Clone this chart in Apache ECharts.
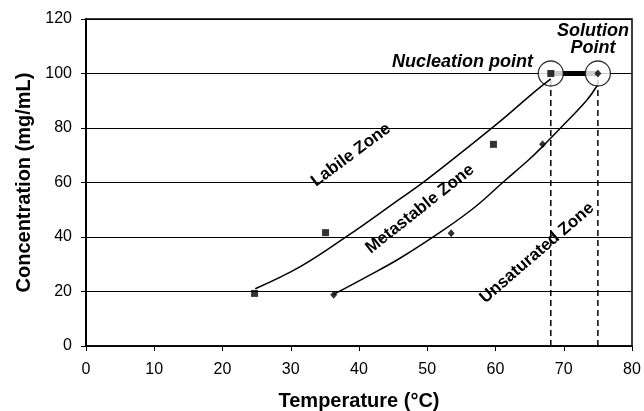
<!DOCTYPE html>
<html lang="en">
<head>
    <meta charset="UTF-8">
    <script src="https://cdn.jsdelivr.net/npm/echarts@6/dist/echarts.min.js"></script>
    <title>Solubility zones</title>
    <style>
        body { margin: 0; background: #fff; }
        #main { width: 644px; height: 411px; }
    </style>
</head>
<body>
    <div id="main"></div>
    <script>
        // values
        var xTicks = [0, 10, 20, 30, 40, 50, 60, 70, 80];
        var yTicks = [0, 20, 40, 60, 80, 100, 120];

        // nucleation points (squares)
        var nucT = [24.7, 35.1, 59.7, 68.1];
        var nucC = [19.3, 41.6, 74, 100];
        // solution points (diamonds)
        var solT = [36.3, 53.5, 66.9, 75];
        var solC = [18.8, 41.4, 74, 100];

        // traced curves
        var upperT = [24.8, 31.4, 38.2, 46, 49.7, 55.3, 60.7, 65.5, 68.1];
        var upperC = [21, 29.1, 40.2, 54, 60.6, 71.6, 82.5, 92.8, 98];
        var lowerT = [36.3, 41.1, 46, 52.4, 57, 61.1, 65, 67, 69.5, 73.4, 74.9];
        var lowerC = [19, 25.4, 32.2, 42.6, 51, 60.1, 68.6, 73.5, 79.9, 90.3, 95.6];

        function pairs(xs, ys) {
            return xs.map(function (x, i) { return [x, ys[i]]; });
        }

        var last = nucT.length - 1;
        var nucPt = [nucT[last], nucC[last]];
        var solPt = [solT[last], solC[last]];

        var font = '"Liberation Sans", Arial, sans-serif';
        var chart = echarts.init(document.getElementById('main'));

        var option = {
            animation: false,
            grid: {
                left: 86, right: 12, top: 19, bottom: 65,
                outerBoundsMode: 'none',
                show: true, borderColor: '#000', borderWidth: 1.5
            },
            xAxis: {
                type: 'value',
                min: xTicks[0], max: xTicks[xTicks.length - 1], interval: 10,
                name: 'Temperature (°C)',
                nameLocation: 'middle',
                nameGap: 45,
                nameTextStyle: { fontFamily: font, fontWeight: 'bold', fontSize: 20, color: '#000' },
                axisLine: { lineStyle: { color: '#000', width: 1.5 } },
                axisTick: { length: 5, lineStyle: { color: '#000' } },
                axisLabel: { margin: 16, fontFamily: font, fontSize: 16, color: '#000' },
                splitLine: { show: false }
            },
            yAxis: {
                type: 'value',
                min: yTicks[0], max: yTicks[yTicks.length - 1], interval: 20,
                name: 'Concentration (mg/mL)',
                nameLocation: 'middle',
                nameGap: 52,
                nameTextStyle: { fontFamily: font, fontWeight: 'bold', fontSize: 20, color: '#000' },
                axisLine: { lineStyle: { color: '#000', width: 2 } },
                axisTick: { length: 5, lineStyle: { color: '#000' } },
                axisLabel: { margin: 14, fontFamily: font, fontSize: 16, color: '#000' },
                splitLine: { lineStyle: { color: '#000', width: 1 } }
            },
            series: [
                {
                    type: 'line', z: 2, symbol: 'none',
                    data: [[nucPt[0], 0], nucPt],
                    lineStyle: { color: '#000', width: 1.5, type: [6, 4] }
                },
                {
                    type: 'line', z: 2, symbol: 'none',
                    data: [[solPt[0], 0], solPt],
                    lineStyle: { color: '#000', width: 1.5, type: [6, 4] }
                },
                {
                    type: 'line', z: 3, symbol: 'none',
                    data: [nucPt, solPt],
                    lineStyle: { color: '#000', width: 5 }
                },
                {
                    type: 'scatter', z: 4,
                    symbol: 'circle', symbolSize: 25,
                    data: [nucPt, solPt],
                    itemStyle: { color: '#fff', borderColor: '#000', borderWidth: 1.3 }
                },
                {
                    type: 'line', z: 5, symbol: 'none', smooth: 0.4,
                    data: pairs(upperT, upperC),
                    lineStyle: { color: '#000', width: 1.5 }
                },
                {
                    type: 'line', z: 5, symbol: 'none', smooth: 0.4,
                    data: pairs(lowerT, lowerC),
                    lineStyle: { color: '#000', width: 1.5 }
                },
                {
                    type: 'scatter', z: 6,
                    symbol: 'rect', symbolSize: 7,
                    data: pairs(nucT, nucC),
                    itemStyle: { color: '#000' }
                },
                {
                    type: 'scatter', z: 6,
                    symbol: 'diamond', symbolSize: [7, 8],
                    data: pairs(solT, solC),
                    itemStyle: { color: '#000' }
                }
            ],
            graphic: [
                {
                    type: 'text', x: 351, y: 155, rotation: 0.64, z: 10,
                    style: { text: 'Labile Zone', font: 'bold 17px ' + font, fill: '#000', textAlign: 'center', textVerticalAlign: 'middle' }
                },
                {
                    type: 'text', x: 420, y: 209, rotation: 0.67, z: 10,
                    style: { text: 'Metastable Zone', font: 'bold 17px ' + font, fill: '#000', textAlign: 'center', textVerticalAlign: 'middle' }
                },
                {
                    type: 'text', x: 537, y: 253, rotation: 0.71, z: 10,
                    style: { text: 'Unsaturated Zone', font: 'bold 17px ' + font, fill: '#000', textAlign: 'center', textVerticalAlign: 'middle' }
                },
                {
                    type: 'text', x: 533, y: 62, z: 10,
                    style: { text: 'Nucleation point', font: 'italic bold 18px ' + font, fill: '#000', textAlign: 'right', textVerticalAlign: 'middle' }
                },
                {
                    type: 'text', x: 593, y: 40, z: 10,
                    style: { text: 'Solution\nPoint', font: 'italic bold 18px ' + font, lineHeight: 17, fill: '#000', textAlign: 'center', textVerticalAlign: 'middle' }
                }
            ]
        };

        chart.setOption(option);
    </script>
</body>
</html>
